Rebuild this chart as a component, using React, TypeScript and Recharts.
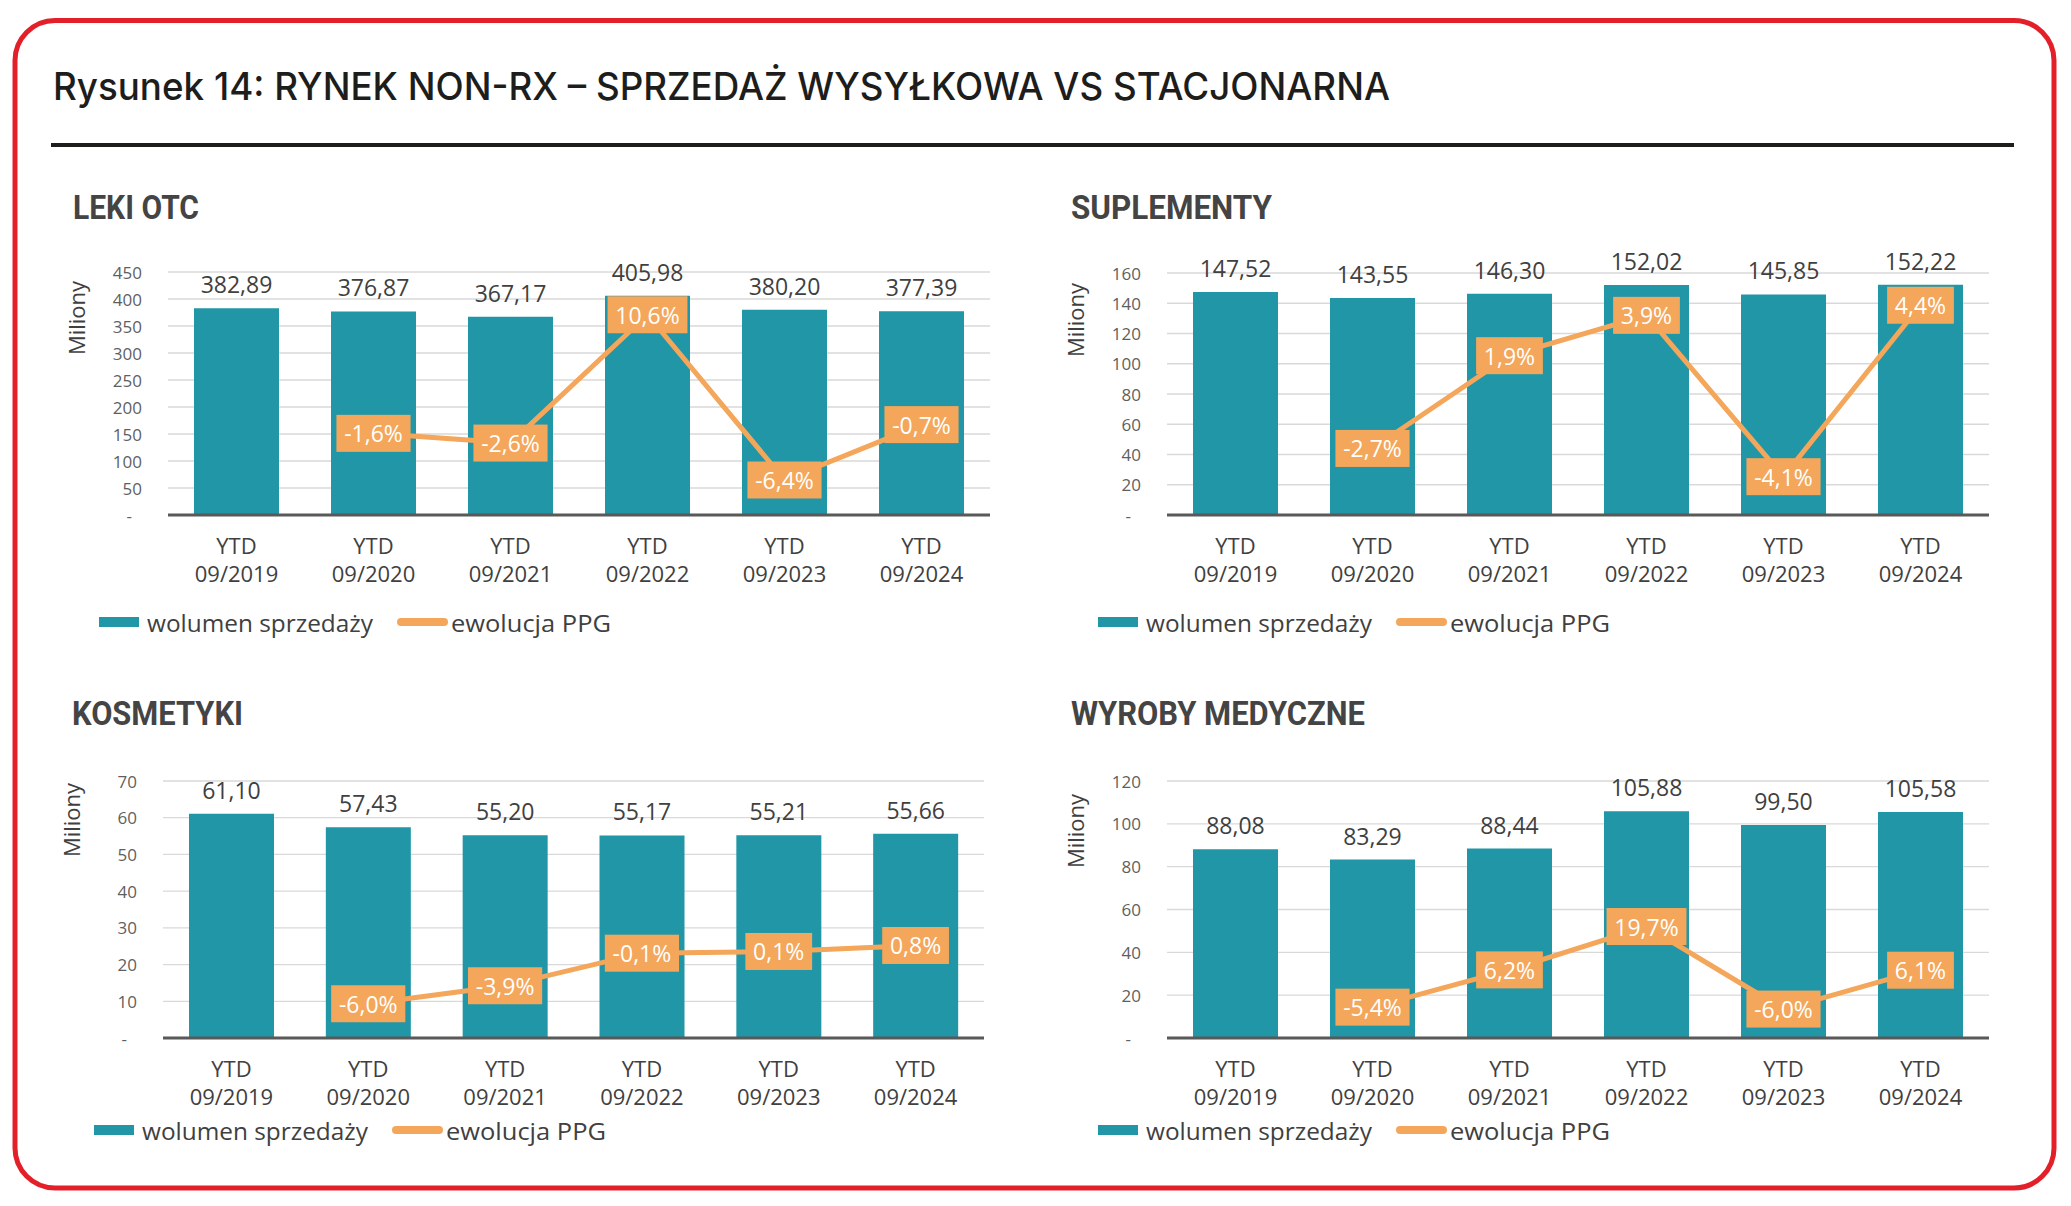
import React from 'react'
import { ComposedChart, Bar, Line, XAxis, YAxis, CartesianGrid, LabelList } from 'recharts'

const categories = ['YTD 09/2019', 'YTD 09/2020', 'YTD 09/2021', 'YTD 09/2022', 'YTD 09/2023', 'YTD 09/2024']

const lekiVolume = [382.89, 376.87, 367.17, 405.98, 380.2, 377.39]
const lekiPpg = [null, -1.6, -2.6, 10.6, -6.4, -0.7]
const lekiTicks = [0, 50, 100, 150, 200, 250, 300, 350, 400, 450]

const suplVolume = [147.52, 143.55, 146.3, 152.02, 145.85, 152.22]
const suplPpg = [null, -2.7, 1.9, 3.9, -4.1, 4.4]
const suplTicks = [0, 20, 40, 60, 80, 100, 120, 140, 160]

const kosmVolume = [61.1, 57.43, 55.2, 55.17, 55.21, 55.66]
const kosmPpg = [null, -6.0, -3.9, -0.1, 0.1, 0.8]
const kosmTicks = [0, 10, 20, 30, 40, 50, 60, 70]

const wyrobVolume = [88.08, 83.29, 88.44, 105.88, 99.5, 105.58]
const wyrobPpg = [null, -5.4, 6.2, 19.7, -6.0, 6.1]
const wyrobTicks = [0, 20, 40, 60, 80, 100, 120]

const TEAL = '#2196A6'
const ORANGE = '#F4A65A'
const RED = '#E3202A'
const TEXT = '#404040'
const FONT = '"Open Sans", "DejaVu Sans", sans-serif'

const fmtNum = (v: number) => v.toFixed(2).replace('.', ',')
const fmtPct = (v: number) => v.toFixed(1).replace('.', ',') + '%'

// rough glyph widths (em) for the label boxes
const charW: Record<string, number> = { ',': 0.245, '-': 0.322, '%': 0.818, '.': 0.27 }
const textWidth = (s: string, size: number) =>
  s.split('').reduce((a, c) => a + (charW[c] ?? 0.572), 0) * size

function CategoryTick(props: any) {
  const { x, y, payload } = props
  const [top, bottom] = String(payload.value).split(' ')
  return (
    <text textAnchor="middle" fontFamily={FONT} fontSize={22} fill={TEXT}>
      <tspan x={x} y={y + 30} dominantBaseline="central">{top}</tspan>
      <tspan x={x} y={y + 58} dominantBaseline="central">{bottom}</tspan>
    </text>
  )
}

function ValueTick(props: any) {
  const { x, y, payload } = props
  const zero = payload.value === 0
  return (
    <text x={zero ? x - 10 : x} y={y} textAnchor="end" dominantBaseline="central"
      fontFamily={FONT} fontSize={17} fill="#5f5f5f">
      {zero ? '-' : payload.value}
    </text>
  )
}

function BarValueLabel(props: any) {
  const { x, y, width, value } = props
  if (value == null) return null
  return (
    <text x={Number(x) + Number(width) / 2} y={Number(y) - 24} textAnchor="middle"
      dominantBaseline="central" fontFamily={FONT} fontSize={23} fill={TEXT}>
      {fmtNum(value)}
    </text>
  )
}

function PpgLabel(props: any) {
  const { x, y, value } = props
  if (value == null) return null
  const s = fmtPct(value)
  const w = textWidth(s, 23) + 16
  const cx = Number(x)
  const cy = Number(y)
  return (
    <g>
      <rect x={cx - w / 2} y={cy - 18.5} width={w} height={37} fill={ORANGE} />
      <text x={cx} y={cy} textAnchor="middle" dominantBaseline="central"
        fontFamily={FONT} fontSize={23} fill="#fff">{s}</text>
    </g>
  )
}

type PanelCfg = {
  title: string
  titleWidth: number
  volume: number[]
  ppg: (number | null)[]
  ticks: number[]
  ppgDomain: [number, number]
  plot: { left: number; top: number; right: number; bottom: number }
  unitDy: number
  legendDy: number
}

const panels: PanelCfg[] = [
  { title: 'LEKI OTC', titleWidth: 126, volume: lekiVolume, ppg: lekiPpg, ticks: lekiTicks, ppgDomain: [-10, 15],
    plot: { left: 168, top: 272, right: 990, bottom: 515 }, unitDy: 46, legendDy: 107 },
  { title: 'SUPLEMENTY', titleWidth: 201, volume: suplVolume, ppg: suplPpg, ticks: suplTicks, ppgDomain: [-6, 6],
    plot: { left: 1167, top: 273, right: 1989, bottom: 515 }, unitDy: 47, legendDy: 107 },
  { title: 'KOSMETYKI', titleWidth: 171, volume: kosmVolume, ppg: kosmPpg, ticks: kosmTicks, ppgDomain: [-10, 20],
    plot: { left: 163, top: 781, right: 984, bottom: 1038 }, unitDy: 39, legendDy: 92 },
  { title: 'WYROBY MEDYCZNE', titleWidth: 294, volume: wyrobVolume, ppg: wyrobPpg, ticks: wyrobTicks, ppgDomain: [-15, 65],
    plot: { left: 1167, top: 781, right: 1989, bottom: 1038 }, unitDy: 50, legendDy: 92 },
]

const PAD_L = 110
const PAD_T = 40
const PAD_R = 20
const PAD_B = 80

function Panel({ cfg }: { cfg: PanelCfg }) {
  const { plot } = cfg
  const width = plot.right - plot.left + PAD_L + PAD_R
  const height = plot.bottom - plot.top + PAD_T + PAD_B
  const data = categories.map((category, i) => ({ category, volume: cfg.volume[i], ppg: cfg.ppg[i] }))
  const max = cfg.ticks[cfg.ticks.length - 1]

  return (
    <div style={{ position: 'absolute', left: plot.left - PAD_L, top: plot.top - PAD_T, width, height }}>
      <ComposedChart width={width} height={height} data={data}
        margin={{ top: PAD_T, right: PAD_R, bottom: 0, left: 0 }}>
        <CartesianGrid yAxisId="vol" vertical={false} stroke="#D9D9D9" strokeWidth={1.3} />
        <XAxis dataKey="category" height={PAD_B} interval={0} tickLine={false} tickSize={0} tickMargin={0}
          axisLine={{ stroke: '#595959', strokeWidth: 3 }} tick={<CategoryTick />} />
        <YAxis yAxisId="vol" width={PAD_L} type="number" domain={[0, max]} ticks={cfg.ticks} allowDataOverflow
          axisLine={false} tickLine={false} tickSize={0} tickMargin={26} tick={<ValueTick />} />
        <YAxis yAxisId="ppg" orientation="right" hide type="number" domain={cfg.ppgDomain} allowDataOverflow />
        <Bar yAxisId="vol" dataKey="volume" fill={TEAL} barSize={85} isAnimationActive={false}>
          <LabelList dataKey="volume" content={BarValueLabel} />
        </Bar>
        <Line yAxisId="ppg" dataKey="ppg" type="linear" stroke={ORANGE} strokeWidth={5} dot={false}
          activeDot={false} isAnimationActive={false}>
          <LabelList dataKey="ppg" content={PpgLabel} />
        </Line>
      </ComposedChart>
    </div>
  )
}

function Decorations() {
  return (
    <svg width={2071} height={1206} style={{ position: 'absolute', left: 0, top: 0 }}>
      <rect x={15} y={20.5} width={2039} height={1167.5} rx={40} ry={40} fill="none" stroke={RED} strokeWidth={5} />
      <text x={53} y={100} fontFamily='Inter, "Open Sans", sans-serif' fontWeight={500} fontSize={38}
        fill="#1d1d1b" textLength={1337} lengthAdjust="spacingAndGlyphs">
        Rysunek 14: RYNEK NON-RX – SPRZEDAŻ WYSYŁKOWA VS STACJONARNA
      </text>
      <rect x={51} y={143} width={1963} height={4} fill="#1d1d1b" />
      {panels.map((p, i) => {
        const L = p.plot.left
        const ly = p.plot.bottom + p.legendDy
        const titleY = p.plot.top < 600 ? 207.5 : 713.5
        const titleX = L - (L > 1000 ? 96 : L === 163 ? 91 : 95)
        return (
          <g key={i}>
            <text x={titleX} y={titleY} dominantBaseline="central" fontFamily='Roboto, "Liberation Sans", sans-serif'
              fontWeight={700} fontSize={33} fill="#444444" textLength={p.titleWidth} lengthAdjust="spacingAndGlyphs">
              {p.title}
            </text>
            <text transform={`translate(${L - 92}, ${p.plot.top + p.unitDy}) rotate(-90)`} textAnchor="middle"
              dominantBaseline="central" fontFamily={FONT} fontSize={22} fill={TEXT}>
              Miliony
            </text>
            <rect x={L - 69} y={ly - 5} width={40} height={10} fill={TEAL} />
            <text x={L - 21} y={ly} dominantBaseline="central" fontFamily={FONT} fontSize={24} fill={TEXT}
              textLength={226} lengthAdjust="spacingAndGlyphs">
              wolumen sprzedaży
            </text>
            <line x1={L + 233} x2={L + 276} y1={ly} y2={ly} stroke={ORANGE} strokeWidth={8} strokeLinecap="round" />
            <text x={L + 283} y={ly} dominantBaseline="central" fontFamily={FONT} fontSize={24} fill={TEXT}
              textLength={160} lengthAdjust="spacingAndGlyphs">
              ewolucja PPG
            </text>
          </g>
        )
      })}
    </svg>
  )
}

export default function App() {
  return (
    <div style={{ position: 'absolute', left: 0, top: 0, width: 2071, height: 1206, background: '#fff' }}>
      <Decorations />
      {panels.map((p, i) => (
        <Panel key={i} cfg={p} />
      ))}
    </div>
  )
}
